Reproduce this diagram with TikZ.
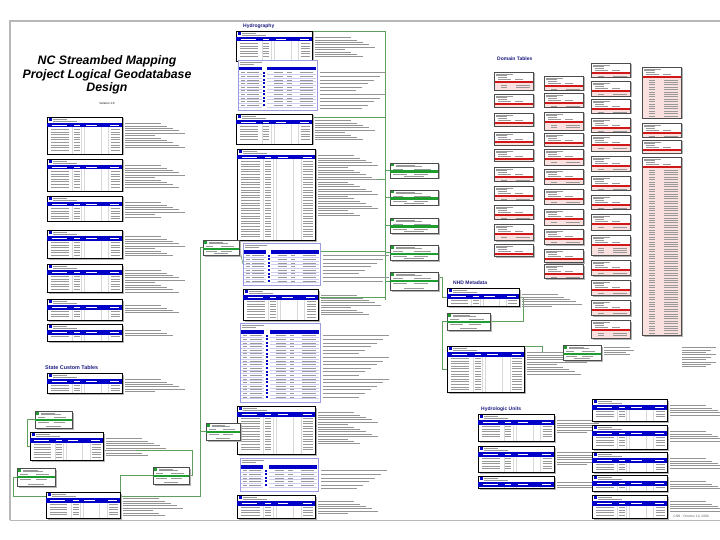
\documentclass[tikz,border=0pt]{standalone}
\usepackage{fontspec}
\setmainfont{Liberation Sans}
\usepackage{xcolor}
\usepackage{tikz}
\usetikzlibrary{positioning,calc}
\definecolor{tb}{HTML}{0000C8}
\definecolor{hd}{HTML}{1A1A80}
\definecolor{rb}{HTML}{D01818}
\definecolor{pk}{HTML}{FBE0E0}
\definecolor{gb}{HTML}{1E9E2E}
\definecolor{gl}{HTML}{5FA05F}
\definecolor{fr}{HTML}{B8B8B8}
\definecolor{sb}{HTML}{9A9AE0}
\pgfdeclarelayer{bg}
\pgfsetlayers{bg,main}
\tikzset{
  tabbox/.style={draw=black,line width=0.5pt,fill=white,inner sep=0pt,anchor=north west},
  subbox/.style={draw=sb,line width=0.6pt,fill=white,inner sep=0pt,anchor=north west},
  dombox/.style={draw=black!70,line width=0.4pt,fill=white,inner sep=0pt,anchor=north west},
  shade/.style={fill=black!30,draw=none},
  txt/.style={black!40,line width=0.55pt},
  desc/.style={black!42,line width=0.45pt},
  rel/.style={gl,line width=0.6pt},
  sect/.style={hd,font=\bfseries\fontsize{5}{6}\selectfont,anchor=west,inner sep=0pt}
}
% feature class table: name, x, y, width, height, description lines
\newcommand{\FcTab}[6]{%
  \fill[shade] ({#2+1.5},{#3+1.5}) rectangle ++(#4,#5);
  \node[tabbox,minimum width=#4pt,minimum height=#5pt] (#1) at (#2,#3) {};
  \fill[tb] ({#2+1.5},{#3+1}) rectangle ++(3.5,3);
  \draw[txt,line width=0.4pt] ({#2+6},{#3+2}) -- ++(14,0) ({#2+6},{#3+4}) -- ++(24,0);
  \fill[tb] (#2,{#3+6}) rectangle ++(#4,4.5);
  \draw[white,line width=0.5pt] ({#2+0.06*#4},{#3+8.3}) -- ++({0.2*#4},0)
    ({#2+0.36*#4},{#3+8.3}) -- ++({0.08*#4},0) ({#2+0.52*#4},{#3+8.3}) -- ++({0.14*#4},0)
    ({#2+0.84*#4},{#3+8.3}) -- ++({0.12*#4},0);
  \draw[black!15,line width=0.3pt] foreach \c in {0.34,0.46,0.5,0.72,0.82}
    {({#2+\c*#4},{#3+10.5}) -- ({#2+\c*#4},{#3+#5})};
  \pgfmathtruncatemacro\nr{(#5-12)/2.6}
  \ifnum\nr>0
  \foreach \r in {1,...,\nr}{
    \draw[txt] ({#2+0.05*#4},{#3+9.6+\r*2.6}) -- ++({0.24*#4},0)
      ({#2+0.36*#4},{#3+9.6+\r*2.6}) -- ++({0.08*#4},0)
      ({#2+0.85*#4},{#3+9.6+\r*2.6}) -- ++({0.12*#4},0);
  }\fi
  \foreach \r in {1,...,#6}{
    \pgfmathsetmacro\ln{30+6*mod(\r*7,6)}
    \draw[desc] ({#2+#4+3},{#3+4+\r*2.4}) -- ++(\ln,0);
  }
}
% subtype table: name, x, y, width, height, description lines
\newcommand{\SubTab}[6]{%
  \node[subbox,minimum width=#4pt,minimum height=#5pt] (#1) at (#2,#3) {};
  \draw[txt,line width=0.4pt] ({#2+2},{#3+2}) -- ++(22,0) ({#2+2},{#3+4.5}) -- ++(14,0);
  \fill[tb] ({#2+1},{#3+7}) rectangle ({#2+0.3*#4},{#3+10.5});
  \fill[tb] ({#2+0.37*#4},{#3+7}) rectangle ({#2+#4-1},{#3+10.5});
  \pgfmathtruncatemacro\nr{(#5-12)/3.6}
  \ifnum\nr>0
  \foreach \r in {1,...,\nr}{
    \draw[sb!50,line width=0.3pt] ({#2+1},{#3+10.8+\r*3.6}) -- ({#2+0.3*#4},{#3+10.8+\r*3.6})
      ({#2+0.37*#4},{#3+10.8+\r*3.6}) -- ({#2+#4-1},{#3+10.8+\r*3.6});
    \draw[txt] ({#2+0.04*#4},{#3+9+\r*3.6}) -- ++({0.05*#4},0)
      ({#2+0.12*#4},{#3+9+\r*3.6}) -- ++({0.15*#4},0)
      ({#2+0.45*#4},{#3+9+\r*3.6}) -- ++({0.12*#4},0)
      ({#2+0.62*#4},{#3+9+\r*3.6}) -- ++({0.06*#4},0)
      ({#2+0.78*#4},{#3+9+\r*3.6}) -- ++({0.17*#4},0);
    \fill[tb] ({#2+0.32*#4},{#3+8+\r*3.6}) rectangle ++(2,2);
  }\fi
  \foreach \r in {1,...,#6}{
    \pgfmathsetmacro\ln{36+6*mod(\r*5,6)}
    \draw[desc] ({#2+#4+3},{#3+9+\r*3.6}) -- ++(\ln,0);
  }
}
% domain table: name, x, y, height
\newcommand{\DomTab}[4]{%
  \fill[shade] ({#2+1.5},{#3+1.5}) rectangle ++(39,#4);
  \node[dombox,minimum width=39pt,minimum height=#4pt] (#1) at (#2,#3) {};
  \draw[txt,line width=0.35pt] ({#2+2},{#3+1.8}) -- ++(17,0) ({#2+2},{#3+3.6}) -- ++(11,0)
    ({#2+4},{#3+5.4}) -- ++(9,0) ({#2+4},{#3+7.2}) -- ++(13,0) ({#2+21},{#3+7.2}) -- ++(8,0);
  \fill[rb] (#2,{#3+9}) rectangle ++(39,2.2);
  \fill[pk] (#2,{#3+11.2}) rectangle ({#2+39},{#3+#4});
  \pgfmathtruncatemacro\nr{(#4-11.5)/2.4}
  \ifnum\nr>0
  \foreach \r in {1,...,\nr}{
    \draw[txt,line width=0.35pt] ({#2+7},{#3+10.3+\r*2.4}) -- ++(6,0) ({#2+22},{#3+10.3+\r*2.4}) -- ++(14,0);
  }\fi
  \draw[black!70,line width=0.4pt] (#1.north west) rectangle (#1.south east);
}
% relationship class: name, x, y, width, height
\newcommand{\RelTab}[5]{%
  \fill[shade] ({#2+1.5},{#3+1.5}) rectangle ++(#4,#5);
  \node[dombox,minimum width=#4pt,minimum height=#5pt] (#1) at (#2,#3) {};
  \fill[gb] ({#2+1.2},{#3+1}) rectangle ++(3,2.5);
  \draw[txt,line width=0.35pt] ({#2+5.5},{#3+1.8}) -- ++({0.4*#4},0) ({#2+5.5},{#3+3.6}) -- ++({0.55*#4},0)
    ({#2+3},{#3+6}) -- ++({0.2*#4},0) ({#2+0.5*#4},{#3+6}) -- ++({0.35*#4},0);
  \fill[gb] (#2,{#3+7.5}) rectangle ++(#4,2.6);
  \draw[txt,line width=0.35pt] ({#2+3},{#3+11.6}) -- ++({0.3*#4},0) ({#2+0.5*#4},{#3+11.6}) -- ++({0.3*#4},0)
    ({#2+0.3*#4},{#3+#5-1.5}) -- ++({0.4*#4},0);
}

\begin{document}
\begin{tikzpicture}[x=1pt,y=-1pt]
  \useasboundingbox (0,0) rectangle (720,540);
  \draw[fr,line width=1.6pt] (10,520) -- (10,21) -- (720,21);
  \draw[fr,line width=1pt] (10,520) -- (720,520);
  \node[align=center,inner sep=0pt,font=\bfseries\itshape\fontsize{12.3}{13.5}\selectfont] (title) at (107,75)
    {NC Streambed Mapping\\Project Logical Geodatabase\\Design};
  \node[font=\fontsize{3}{4}\selectfont,below=8pt of title,inner sep=0pt] (version) {Version 1.0};
  \node[font=\fontsize{3.3}{4}\selectfont,text=black!60,anchor=east,inner sep=0pt] (stamp) at (709,517) {CNB - October 10, 2006};

  \FcTab{tabA}{47}{117}{75}{37}{11}
  \FcTab{tabB}{47}{159}{75}{32}{10}
  \FcTab{tabC}{47}{196}{75}{25}{7}
  \FcTab{tabD}{47}{230}{75}{28}{9}
  \FcTab{tabE}{47}{264}{75}{28}{10}
  \FcTab{tabF}{47}{299}{75}{21}{4}
  \FcTab{tabG}{47}{324}{75}{17}{3}

  \node[sect,font=\bfseries\fontsize{5.4}{6}\selectfont] (state) at (45,368) {State Custom Tables};
  \FcTab{tabS1}{47}{373}{75}{20}{6}
  \RelTab{relG1}{35}{411}{37}{17}
  \FcTab{tabS2}{30}{432}{73}{28}{8}
  \RelTab{relG2}{17}{468}{38}{18}
  \RelTab{relG3}{153}{467}{36}{17}
  \FcTab{tabS3}{46}{492}{74}{26}{8}

  \node[sect] (hydro) at (243,26) {Hydrography};
  \FcTab{tabH}{236}{31}{76}{30}{9}
  \SubTab{subH}{238}{60}{79}{50}{11}
  \FcTab{tabI}{236}{114}{76}{30}{9}
  \FcTab{tabJ}{237}{149}{78}{91}{26}
  \SubTab{subK}{243}{243}{77}{42}{8}
  \FcTab{tabK}{243}{289}{75}{31}{9}
  \SubTab{subL}{240}{323}{80}{79}{18}
  \FcTab{tabL}{237}{406}{78}{48}{14}
  \SubTab{subM}{240}{458}{78}{33}{6}
  \FcTab{tabM}{237}{495}{78}{23}{6}
  \RelTab{relM1}{203}{240}{36}{15}
  \RelTab{relM2}{206}{423}{34}{17}

  \RelTab{relR1}{390}{163}{48}{15}
  \RelTab{relR2}{390}{190}{48}{15}
  \RelTab{relR3}{390}{218}{48}{15}
  \RelTab{relR4}{390}{245}{48}{15}
  \RelTab{relR5}{390}{272}{48}{18}

  \node[sect] (domains) at (497,59) {Domain Tables};
  \foreach \y/\h [count=\i] in {72/18,94/13,113/13,132/13,149/12,167/14,186/14,205/14,224/16,244/12}
    {\DomTab{domA\i}{494}{\y}{\h}}
  \foreach \y/\h [count=\i] in {76/14,93/14,112/18,133/13,149/16,169/15,189/15,209/16,229/15,249/13,264/14}
    {\DomTab{domB\i}{544}{\y}{\h}}
  \foreach \y/\h [count=\i] in {63/14,81/15,99/14,118/14,135/16,156/15,176/14,195/14,214/16,235/20,260/15,280/15,300/15,320/18}
    {\DomTab{domC\i}{591}{\y}{\h}}
  \foreach \y/\h [count=\i] in {67/51,123/14,140/13,157/178}
    {\DomTab{domD\i}{642}{\y}{\h}}

  \node[sect] (nhd) at (453,283) {NHD Metadata};
  \FcTab{tabN1}{447}{288}{72}{18}{6}
  \RelTab{relN1}{447}{313}{43}{17}
  \FcTab{tabN2}{447}{346}{77}{46}{10}
  \RelTab{relN2}{563}{345}{38}{15}
  \foreach \r in {1,...,4}
    {\draw[desc] (604,{345+\r*2.4}) -- ++({22+4*mod(\r,3)},0);}
  \foreach \r in {1,...,9}
    {\draw[desc] (682,{345+\r*2.4}) -- ++({24+5*mod(\r*2,3)},0);}

  \node[sect] (hucs) at (481,409) {Hydrologic Units};
  \FcTab{tabU1}{478}{414}{76}{27}{6}
  \FcTab{tabU2}{478}{446}{76}{26}{6}
  \FcTab{tabU3}{478}{476}{76}{12}{3}
  \FcTab{tabV1}{592}{399}{75}{22}{5}
  \FcTab{tabV2}{592}{425}{75}{24}{5}
  \FcTab{tabV3}{592}{452}{75}{20}{5}
  \FcTab{tabV4}{592}{475}{75}{16}{4}
  \FcTab{tabV5}{592}{495}{75}{23}{5}

  \coordinate (trunk) at (385,300);
  \coordinate (lowrun) at (200,496);
  \begin{pgfonlayer}{bg}
    \draw[rel] (tabH.north east) -| (trunk);
    \draw[rel] ([yshift=-3pt]tabI.north east) -| (trunk);
    \draw[rel] ([yshift=-30pt]tabJ.north east) -| (trunk);
    \draw[rel] ([yshift=-8pt]subK.north east) -| (trunk);
    \draw[rel] ([yshift=-8pt]tabK.north east) -| (trunk);
    \foreach \n in {relR1,relR2,relR3,relR4,relR5}
      {\draw[rel] (\n.west) -| (trunk);}
    \draw[rel] ([yshift=4pt]relR5.east) -- ++(4,0) |- (tabN1.west);
    \draw[rel] (tabN1.east) -- ++(4,0) |- (relN1.east);
    \draw[rel] (relN1.west) -- ++(-5,0) |- (tabN2.west);
    \draw[rel] (tabN2.north east) -- ++(18,0) |- (relN2.west);
    \draw[rel] (relM1.east) -- (subK.west);
    \draw[rel] (relM2.east) -- (tabL.west);
    \draw[rel] (relG2.west) -- ++(-4,0) |- (lowrun) |- (relM1.west);
    \draw[rel] (relM2.west) -| (lowrun);
    \draw[rel] ([yshift=-4pt]tabS2.east) -- ++(89,0) |- (relG3.east);
    \draw[rel] (relG3.west) -| (tabS3.north east);
    \draw[rel] (relG1.west) -- ++(-8,0) |- (tabS2.west);
  \end{pgfonlayer}
\end{tikzpicture}
\end{document}
